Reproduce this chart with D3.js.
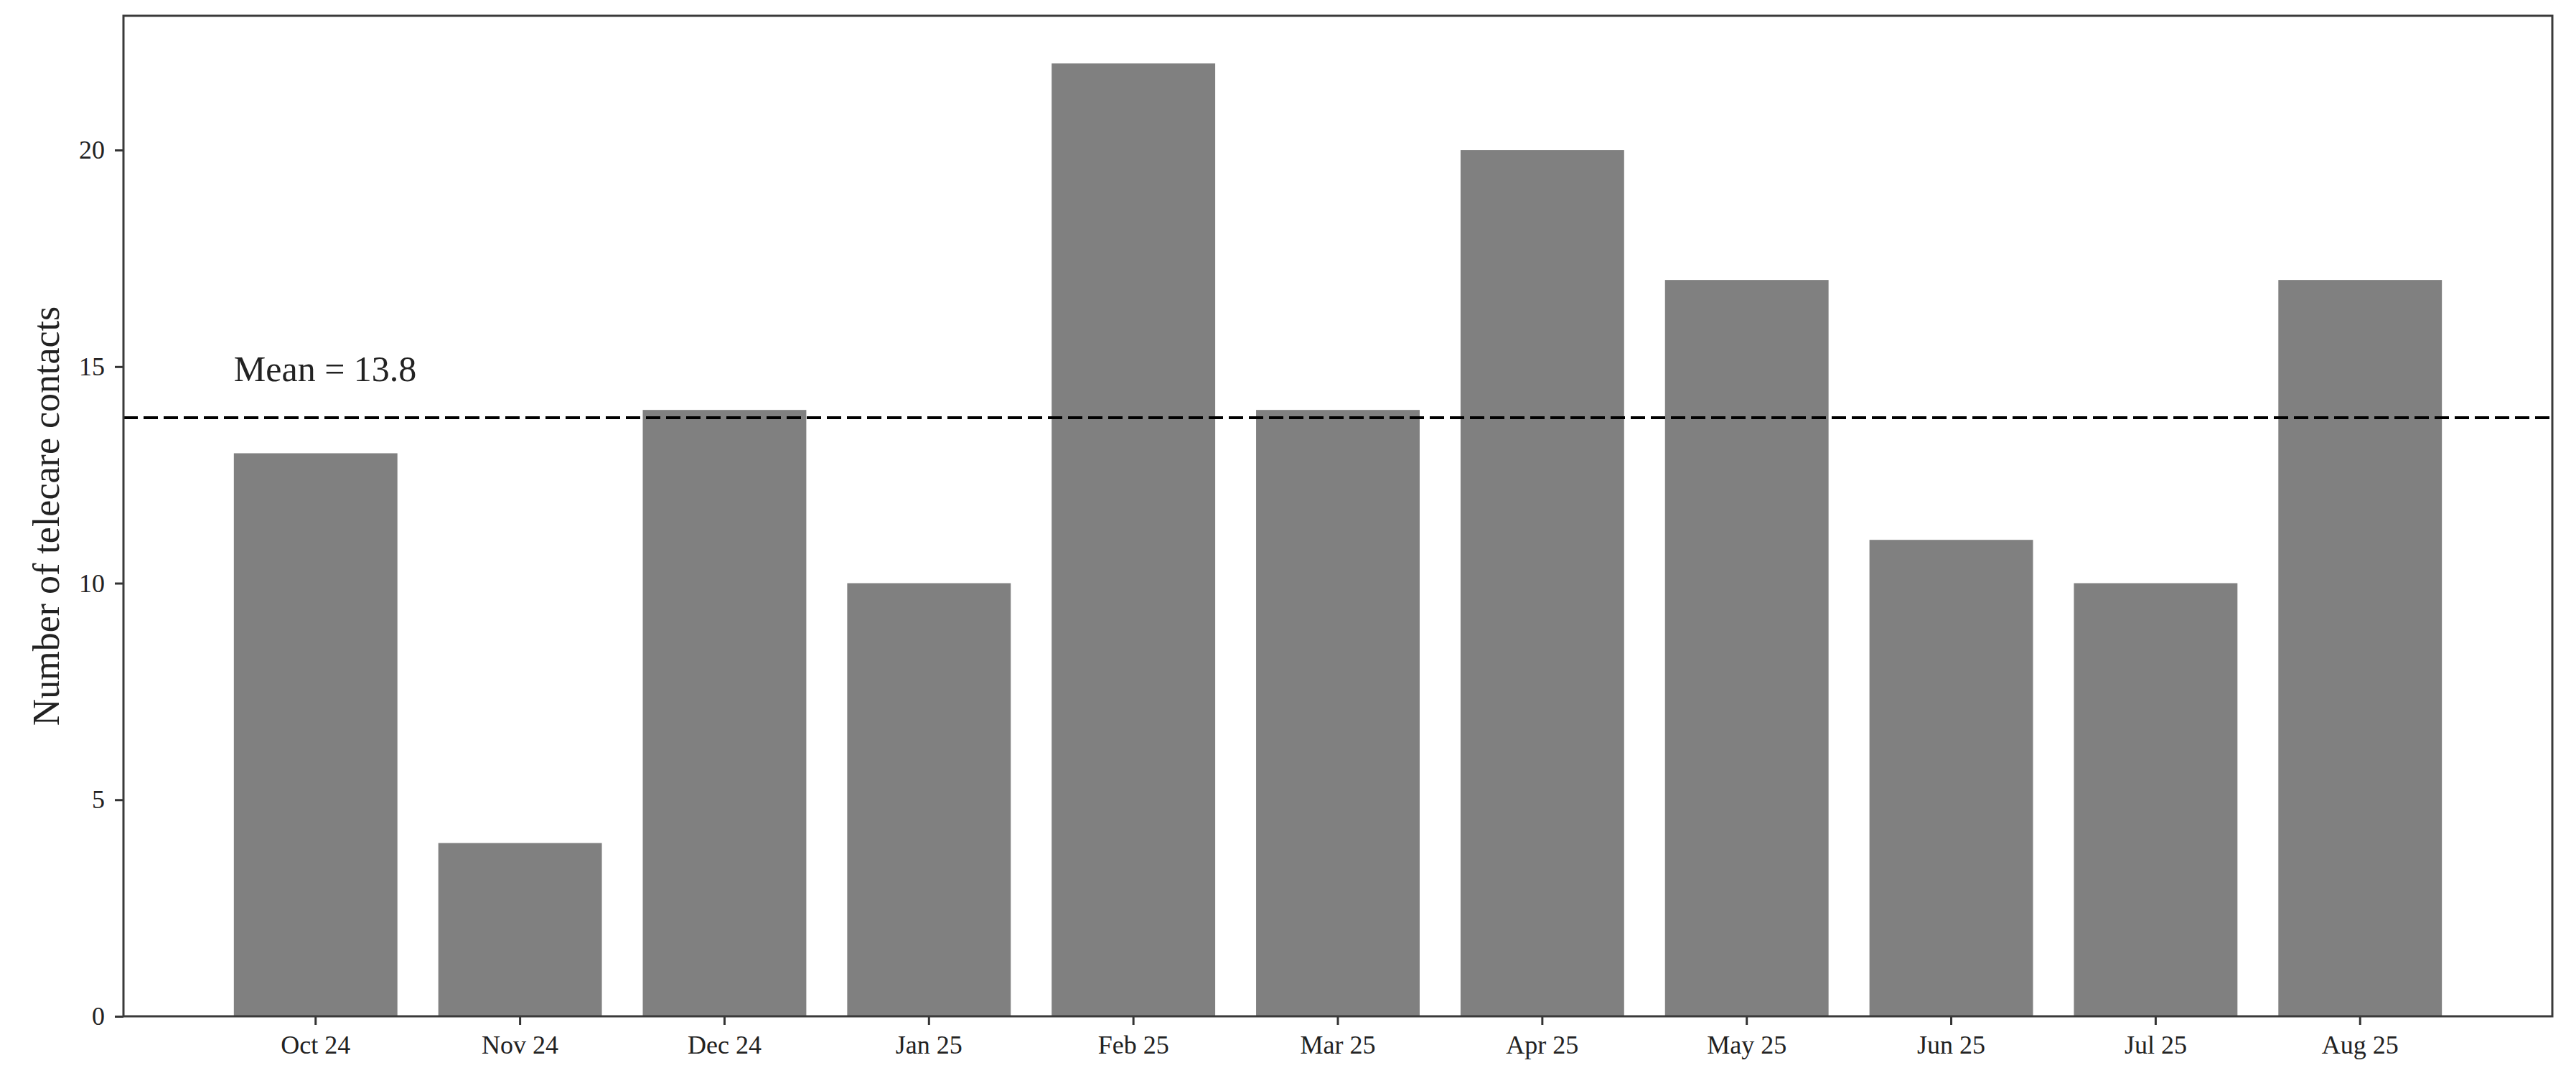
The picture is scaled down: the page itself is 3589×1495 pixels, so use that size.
<!DOCTYPE html>
<html>
<head>
<meta charset="utf-8">
<script src="https://cdn.jsdelivr.net/npm/d3@7"></script>
<style>
  body { margin: 0; background: #fff; }
  text { font-family: 'Liberation Serif', 'DejaVu Serif', serif; fill: #222; }
</style>
</head>
<body>
<div id="chart"></div>
<script>
const months = ['Oct 24', 'Nov 24', 'Dec 24', 'Jan 25', 'Feb 25', 'Mar 25', 'Apr 25', 'May 25', 'Jun 25', 'Jul 25', 'Aug 25']
const contacts = [13, 4, 14, 10, 22, 14, 20, 17, 11, 10, 17]
const yTicks = [0, 5, 10, 15, 20]
const yLabel = 'Number of telecare contacts'

const width = 3589
const height = 1495
const margin = { top: 22, right: 33, bottom: 79, left: 172 }
const innerW = width - margin.left - margin.right
const innerH = height - margin.top - margin.bottom

const data = months.map((m, i) => ({ month: m, value: contacts[i] }))
const mean = d3.mean(contacts)

const svg = d3.select('#chart')
  .append('svg')
  .attr('width', width)
  .attr('height', height)

const g = svg.append('g')
  .attr('transform', `translate(${margin.left},${margin.top})`)

// matplotlib style: bar width 0.8, 5% margins on both sides
const x = d3.scaleBand()
  .domain(months)
  .range([0, innerW])
  .paddingInner(0.2)
  .paddingOuter(0.54)

const y = d3.scaleLinear()
  .domain([0, d3.max(contacts) * 1.05])
  .range([innerH, 0])

g.append('g')
  .attr('class', 'bars')
  .selectAll('rect')
  .data(data)
  .enter()
  .append('rect')
  .attr('x', d => x(d.month))
  .attr('y', d => y(d.value))
  .attr('width', x.bandwidth())
  .attr('height', d => y(0) - y(d.value))
  .attr('fill', '#808080')

// mean line
g.append('line')
  .attr('x1', 0)
  .attr('x2', innerW)
  .attr('y1', y(mean))
  .attr('y2', y(mean))
  .attr('stroke', '#000')
  .attr('stroke-width', 4)
  .attr('stroke-dasharray', '20,8')

g.append('text')
  .attr('x', x(months[0]))
  .attr('y', y(mean) - 51)
  .attr('font-size', 50)
  .text(`Mean = ${mean.toFixed(1)}`)

// axes
const xAxis = g.append('g')
  .attr('transform', `translate(0,${innerH})`)
  .call(d3.axisBottom(x).tickSize(12).tickPadding(14))

const yAxis = g.append('g')
  .call(d3.axisLeft(y).tickValues(yTicks).tickSize(12).tickPadding(14))

xAxis.select('.domain').remove()
yAxis.select('.domain').remove()

;[xAxis, yAxis].forEach(a => {
  a.selectAll('.tick line').attr('stroke', '#333').attr('stroke-width', 3)
  a.selectAll('.tick text').attr('font-size', 36).attr('font-family', "'Liberation Serif', serif").attr('fill', '#222')
})

// frame
g.append('rect')
  .attr('x', 0)
  .attr('y', 0)
  .attr('width', innerW)
  .attr('height', innerH)
  .attr('fill', 'none')
  .attr('stroke', '#3a3a3a')
  .attr('stroke-width', 3)

svg.append('text')
  .attr('transform', `translate(82,${margin.top + innerH / 2}) rotate(-90)`)
  .attr('text-anchor', 'middle')
  .attr('font-size', 52)
  .text(yLabel)
</script>
</body>
</html>
